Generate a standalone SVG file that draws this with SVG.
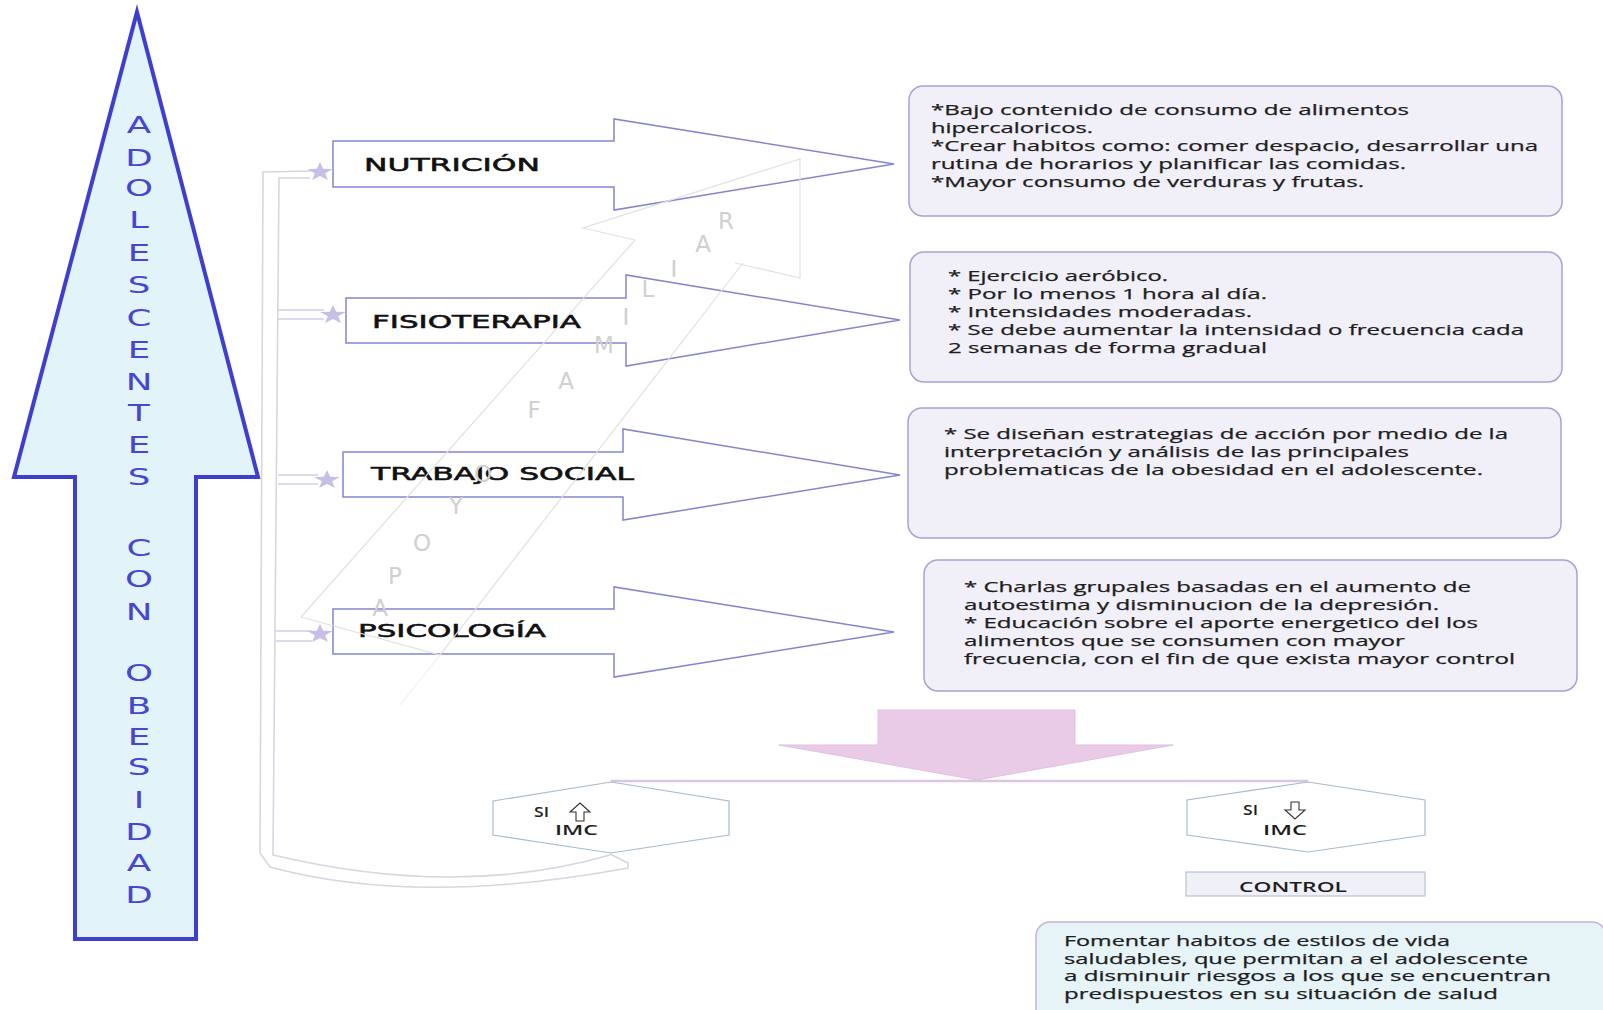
<svg xmlns="http://www.w3.org/2000/svg" width="1603" height="1010" viewBox="0 0 1603 1010">
<style>
.node-arrow{fill:#ffffff;stroke:#8585cf;stroke-width:1.5;stroke-linejoin:miter}
.lbl{font-family:"DejaVu Sans",sans-serif;font-weight:normal;font-size:18.5px;fill:#111;stroke:#111;stroke-width:0.55}
.box{fill:#f1f0f8;stroke:#a4a4d4;stroke-width:1.5}
.body{font-family:"Open Sans","Liberation Sans",sans-serif;font-size:14.5px;fill:#1e1e1e;stroke:#1e1e1e;stroke-width:0.25}
.big{font-family:"DejaVu Sans",sans-serif;font-size:23px;fill:#4646d0;text-anchor:middle}
.wm{font-family:"DejaVu Sans",sans-serif;font-size:23px;fill:#d0d0d0;text-anchor:middle}
.hex{fill:#ffffff;stroke:#a9bccd;stroke-width:1.2}
.small{font-family:"Open Sans","Liberation Sans",sans-serif;font-weight:600;font-size:14px;fill:#1e1e1e}
.br{fill:none;stroke:#d6d6e0;stroke-width:1.6}
.hc{fill:none;stroke:#cfcfe6;stroke-width:1.5}
.star{fill:#c6bfe6}
</style>
<defs>
<path id="star" d="M0,-10 L2.35,-3.24 L9.51,-3.09 L3.8,1.24 L5.88,8.09 L0,4 L-5.88,8.09 L-3.8,1.24 L-9.51,-3.09 L-2.35,-3.24 Z"/>
</defs>
<rect width="1603" height="1010" fill="#ffffff"/>

<g id="connectors">
<path class="br" d="M314,171 L263,172 L260,853 L270,867 Q417,907 628,868 L628,863 L610,854"/>
<path class="br" d="M310,178 L279,178 L273,855 Q458,899 610,855"/>
<line class="hc" x1="278" y1="310" x2="324" y2="310"/>
<line class="hc" x1="278" y1="319" x2="324" y2="319"/>
<line class="hc" x1="278" y1="475" x2="318" y2="475"/>
<line class="hc" x1="278" y1="484" x2="318" y2="484"/>
<line class="hc" x1="276" y1="631" x2="312" y2="631"/>
<line class="hc" x1="276" y1="641" x2="312" y2="641"/>
<line x1="611" y1="781" x2="1308" y2="781" stroke="#dcc4e2" stroke-width="2.5"/>
</g>

<g id="adolescentes">
<polygon points="137,12 258,477 196,477 196,939 75,939 75,477 14,477" fill="#e2f4f9" stroke="#3f3fcf" stroke-width="4" stroke-linejoin="miter"/>
<g transform="translate(139 0) scale(1.55 1)">
<text class="big" x="0" y="133">A</text>
<text class="big" x="0" y="166">D</text>
<text class="big" x="0" y="196">O</text>
<text class="big" x="0" y="228">L</text>
<text class="big" x="0" y="261">E</text>
<text class="big" x="0" y="293">S</text>
<text class="big" x="0" y="326">C</text>
<text class="big" x="0" y="358">E</text>
<text class="big" x="0" y="390">N</text>
<text class="big" x="0" y="421">T</text>
<text class="big" x="0" y="453">E</text>
<text class="big" x="0" y="485">S</text>
<text class="big" x="0" y="556">C</text>
<text class="big" x="0" y="587">O</text>
<text class="big" x="0" y="620">N</text>
<text class="big" x="0" y="681">O</text>
<text class="big" x="0" y="714">B</text>
<text class="big" x="0" y="745">E</text>
<text class="big" x="0" y="775">S</text>
<text class="big" x="0" y="808">I</text>
<text class="big" x="0" y="840">D</text>
<text class="big" x="0" y="871">A</text>
<text class="big" x="0" y="903">D</text>
</g>
</g>

<g id="nutricion">
<polygon class="node-arrow" points="333,141 614,141 614,119 894,164 614,210 614,187 333,187"/>
<use href="#star" class="star" transform="translate(320 172) scale(1.35 1)"/>
<text class="lbl" x="364" y="171" textLength="176" lengthAdjust="spacingAndGlyphs">NUTRICIÓN</text>
</g>

<g id="fisioterapia">
<polygon class="node-arrow" points="346,298 626,298 626,275 900,320 626,366 626,343 346,343"/>
<use href="#star" class="star" transform="translate(333 315) scale(1.35 1)"/>
<text class="lbl" x="372" y="328" textLength="209" lengthAdjust="spacingAndGlyphs">FISIOTERAPIA</text>
</g>

<g id="trabajo-social">
<polygon class="node-arrow" points="343,452 623,452 623,429 900,475 623,520 623,497 343,497"/>
<use href="#star" class="star" transform="translate(327 480) scale(1.35 1)"/>
<text class="lbl" x="371" y="480" textLength="263" lengthAdjust="spacingAndGlyphs">TRABAJO SOCIAL</text>
</g>

<g id="psicologia">
<polygon class="node-arrow" points="333,609 614,609 614,587 894,632 614,677 614,654 333,654"/>
<use href="#star" class="star" transform="translate(320 634) scale(1.35 1)"/>
<text class="lbl" x="358" y="637" textLength="188" lengthAdjust="spacingAndGlyphs">PSICOLOGÍA</text>
</g>

<g id="watermark">
<polyline points="301,617 635,240 583,228 800,159 800,278 735,263" fill="none" stroke="#e0e0e0" stroke-width="1.2"/>
<polyline points="743,263 440,655 301,617" fill="none" stroke="#e0e0e0" stroke-width="1.2"/>
<line x1="440" y1="655" x2="400" y2="705" stroke="#efefef" stroke-width="1.2"/>
<text class="wm" x="380" y="616">A</text>
<text class="wm" x="395" y="584">P</text>
<text class="wm" x="422" y="551">O</text>
<text class="wm" x="456" y="514">Y</text>
<text class="wm" x="483" y="482">O</text>
<text class="wm" x="534" y="418">F</text>
<text class="wm" x="566" y="389">A</text>
<text class="wm" x="604" y="353">M</text>
<text class="wm" x="626" y="325">I</text>
<text class="wm" x="648" y="297">L</text>
<text class="wm" x="674" y="277">I</text>
<text class="wm" x="703" y="252">A</text>
<text class="wm" x="726" y="229">R</text>
</g>

<g id="box-nutricion">
<rect class="box" x="909" y="86" width="653" height="130" rx="14"/>
<text class="body" x="931" y="115" textLength="478" lengthAdjust="spacingAndGlyphs">*Bajo contenido de consumo de alimentos</text>
<text class="body" x="931" y="133" textLength="162" lengthAdjust="spacingAndGlyphs">hipercaloricos.</text>
<text class="body" x="931" y="151" textLength="607" lengthAdjust="spacingAndGlyphs">*Crear habitos como: comer despacio, desarrollar una</text>
<text class="body" x="931" y="169" textLength="475" lengthAdjust="spacingAndGlyphs">rutina de horarios y planificar las comidas.</text>
<text class="body" x="931" y="187" textLength="433" lengthAdjust="spacingAndGlyphs">*Mayor consumo de verduras y frutas.</text>
</g>

<g id="box-fisioterapia">
<rect class="box" x="910" y="252" width="652" height="130" rx="14"/>
<text class="body" x="948" y="281" textLength="220" lengthAdjust="spacingAndGlyphs">* Ejercicio aeróbico.</text>
<text class="body" x="948" y="299" textLength="319" lengthAdjust="spacingAndGlyphs">* Por lo menos 1 hora al día.</text>
<text class="body" x="948" y="317" textLength="304" lengthAdjust="spacingAndGlyphs">* Intensidades moderadas.</text>
<text class="body" x="948" y="335" textLength="576" lengthAdjust="spacingAndGlyphs">* Se debe aumentar la intensidad o frecuencia cada</text>
<text class="body" x="948" y="353" textLength="319" lengthAdjust="spacingAndGlyphs">2 semanas de forma gradual</text>
</g>

<g id="box-trabajo-social">
<rect class="box" x="908" y="408" width="653" height="130" rx="14"/>
<text class="body" x="944" y="439" textLength="564" lengthAdjust="spacingAndGlyphs">* Se diseñan estrategias de acción por medio de la</text>
<text class="body" x="944" y="457" textLength="465" lengthAdjust="spacingAndGlyphs">interpretación y análisis de las principales</text>
<text class="body" x="944" y="475" textLength="539" lengthAdjust="spacingAndGlyphs">problematicas de la obesidad en el adolescente.</text>
</g>

<g id="box-psicologia">
<rect class="box" x="924" y="560" width="653" height="131" rx="14"/>
<text class="body" x="964" y="592" textLength="507" lengthAdjust="spacingAndGlyphs">* Charlas grupales basadas en el aumento de</text>
<text class="body" x="964" y="610" textLength="475" lengthAdjust="spacingAndGlyphs">autoestima y disminucion de la depresión.</text>
<text class="body" x="964" y="628" textLength="514" lengthAdjust="spacingAndGlyphs">* Educación sobre el aporte energetico del los</text>
<text class="body" x="964" y="646" textLength="441" lengthAdjust="spacingAndGlyphs">alimentos que se consumen con mayor</text>
<text class="body" x="964" y="664" textLength="551" lengthAdjust="spacingAndGlyphs">frecuencia, con el fin de que exista mayor control</text>
</g>

<g id="resultado-arrow">
<polygon points="878,710 1075,710 1075,745 1173,745 977,780 779,745 878,745" fill="#e9cbe8" stroke="#e0bfe0" stroke-width="1"/>
</g>

<g id="si-imc-sube">
<polygon class="hex" points="611,782 729,801 729,835 611,853 493,835 493,801"/>
<text class="small" x="534" y="817" font-size="15" textLength="15" lengthAdjust="spacingAndGlyphs">SI</text>
<polygon points="580,803 590,812 584,812 584,821 576,821 576,812 570,812" fill="#ffffff" stroke="#333" stroke-width="1.1" stroke-linejoin="miter"/>
<text class="small" x="555" y="835" textLength="43" lengthAdjust="spacingAndGlyphs">IMC</text>
</g>

<g id="si-imc-baja">
<polygon class="hex" points="1308,782 1425,800 1425,835 1308,852 1187,835 1187,800"/>
<text class="small" x="1243" y="815" font-size="15" textLength="15" lengthAdjust="spacingAndGlyphs">SI</text>
<polygon points="1291,802 1299,802 1299,810 1305,810 1295,819 1285,810 1291,810" fill="#ffffff" stroke="#333" stroke-width="1.1" stroke-linejoin="miter"/>
<text class="small" x="1263" y="835" textLength="44" lengthAdjust="spacingAndGlyphs">IMC</text>
</g>

<g id="control">
<rect x="1186" y="872" width="239" height="24" fill="#eff0f8" stroke="#b7c3d6" stroke-width="1.2"/>
<text class="small" x="1239" y="892" font-size="15" textLength="108" lengthAdjust="spacingAndGlyphs">CONTROL</text>
</g>

<g id="fomentar">
<rect x="1036" y="922" width="570" height="110" rx="14" fill="#e6f4f8" stroke="#c9b3dc" stroke-width="1.5"/>
<text class="body" x="1064" y="946" textLength="386" lengthAdjust="spacingAndGlyphs">Fomentar habitos de estilos de vida</text>
<text class="body" x="1064" y="964" textLength="464" lengthAdjust="spacingAndGlyphs">saludables, que permitan a el adolescente</text>
<text class="body" x="1064" y="981" textLength="487" lengthAdjust="spacingAndGlyphs">a disminuir riesgos a los que se encuentran</text>
<text class="body" x="1064" y="999" textLength="434" lengthAdjust="spacingAndGlyphs">predispuestos en su situación de salud</text>
</g>
</svg>
